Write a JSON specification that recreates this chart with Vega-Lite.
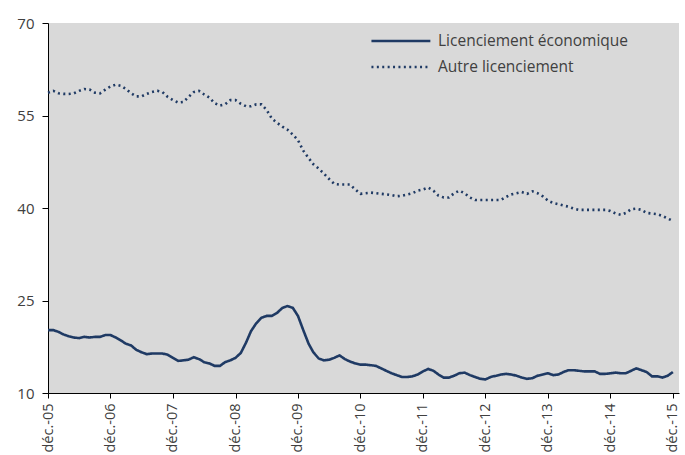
{
  "$schema": "https://vega.github.io/schema/vega-lite/v6.json",
  "width": 631,
  "height": 370,
  "autosize": {"type": "none"},
  "padding": {"left": 48, "top": 23, "right": 6, "bottom": 62},
  "background": "white",
  "config": {
    "font": "Open Sans",
    "view": {"fill": "#d9d9d9", "stroke": null},
    "axis": {"grid": false, "domainColor": "#000000", "tickColor": "#000000", "labelColor": "#404040", "labelFontSize": 14.5, "title": null}
  },
  "data": {"values": [
    {"d":"2005/12/01","eco":20.2,"autre":58.7},
    {"d":"2006/01/01","eco":20.2,"autre":59.0},
    {"d":"2006/02/01","eco":19.9,"autre":58.6},
    {"d":"2006/03/01","eco":19.5,"autre":58.5},
    {"d":"2006/04/01","eco":19.2,"autre":58.5},
    {"d":"2006/05/01","eco":19.0,"autre":58.6},
    {"d":"2006/06/01","eco":18.9,"autre":59.0},
    {"d":"2006/07/01","eco":19.1,"autre":59.3},
    {"d":"2006/08/01","eco":19.0,"autre":59.2},
    {"d":"2006/09/01","eco":19.1,"autre":58.7},
    {"d":"2006/10/01","eco":19.1,"autre":58.6},
    {"d":"2006/11/01","eco":19.4,"autre":59.2},
    {"d":"2006/12/01","eco":19.4,"autre":59.7},
    {"d":"2007/01/01","eco":19.0,"autre":60.0},
    {"d":"2007/02/01","eco":18.5,"autre":59.8},
    {"d":"2007/03/01","eco":18.0,"autre":59.3},
    {"d":"2007/04/01","eco":17.7,"autre":58.6},
    {"d":"2007/05/01","eco":17.0,"autre":58.1},
    {"d":"2007/06/01","eco":16.6,"autre":58.1},
    {"d":"2007/07/01","eco":16.3,"autre":58.5},
    {"d":"2007/08/01","eco":16.4,"autre":58.8},
    {"d":"2007/09/01","eco":16.4,"autre":59.0},
    {"d":"2007/10/01","eco":16.4,"autre":58.8},
    {"d":"2007/11/01","eco":16.2,"autre":58.0},
    {"d":"2007/12/01","eco":15.7,"autre":57.5},
    {"d":"2008/01/01","eco":15.2,"autre":57.1},
    {"d":"2008/02/01","eco":15.3,"autre":57.2},
    {"d":"2008/03/01","eco":15.4,"autre":58.0},
    {"d":"2008/04/01","eco":15.8,"autre":58.8},
    {"d":"2008/05/01","eco":15.5,"autre":59.0},
    {"d":"2008/06/01","eco":15.0,"autre":58.4},
    {"d":"2008/07/01","eco":14.8,"autre":57.9},
    {"d":"2008/08/01","eco":14.4,"autre":57.0},
    {"d":"2008/09/01","eco":14.4,"autre":56.6},
    {"d":"2008/10/01","eco":15.0,"autre":56.8},
    {"d":"2008/11/01","eco":15.3,"autre":57.5},
    {"d":"2008/12/01","eco":15.7,"autre":57.5},
    {"d":"2009/01/01","eco":16.5,"autre":56.9},
    {"d":"2009/02/01","eco":18.2,"autre":56.5},
    {"d":"2009/03/01","eco":20.0,"autre":56.5},
    {"d":"2009/04/01","eco":21.3,"autre":56.8},
    {"d":"2009/05/01","eco":22.2,"autre":56.8},
    {"d":"2009/06/01","eco":22.5,"autre":55.9},
    {"d":"2009/07/01","eco":22.5,"autre":54.5},
    {"d":"2009/08/01","eco":23.0,"autre":53.8},
    {"d":"2009/09/01","eco":23.8,"autre":53.2},
    {"d":"2009/10/01","eco":24.1,"autre":52.7},
    {"d":"2009/11/01","eco":23.8,"autre":51.9},
    {"d":"2009/12/01","eco":22.5,"autre":51.0},
    {"d":"2010/01/01","eco":20.2,"autre":49.3},
    {"d":"2010/02/01","eco":18.0,"autre":48.1},
    {"d":"2010/03/01","eco":16.6,"autre":47.1},
    {"d":"2010/04/01","eco":15.6,"autre":46.4},
    {"d":"2010/05/01","eco":15.3,"autre":45.6},
    {"d":"2010/06/01","eco":15.4,"autre":44.7},
    {"d":"2010/07/01","eco":15.7,"autre":43.9},
    {"d":"2010/08/01","eco":16.1,"autre":43.8},
    {"d":"2010/09/01","eco":15.5,"autre":43.8},
    {"d":"2010/10/01","eco":15.1,"autre":43.8},
    {"d":"2010/11/01","eco":14.8,"autre":43.0},
    {"d":"2010/12/01","eco":14.6,"autre":42.3},
    {"d":"2011/01/01","eco":14.6,"autre":42.4},
    {"d":"2011/02/01","eco":14.5,"autre":42.5},
    {"d":"2011/03/01","eco":14.4,"autre":42.4},
    {"d":"2011/04/01","eco":14.0,"autre":42.3},
    {"d":"2011/05/01","eco":13.6,"autre":42.2},
    {"d":"2011/06/01","eco":13.2,"autre":42.1},
    {"d":"2011/07/01","eco":12.9,"autre":41.9},
    {"d":"2011/08/01","eco":12.6,"autre":42.0},
    {"d":"2011/09/01","eco":12.6,"autre":42.2},
    {"d":"2011/10/01","eco":12.7,"autre":42.4},
    {"d":"2011/11/01","eco":13.0,"autre":42.8},
    {"d":"2011/12/01","eco":13.5,"autre":43.0},
    {"d":"2012/01/01","eco":13.9,"autre":43.3},
    {"d":"2012/02/01","eco":13.6,"autre":42.8},
    {"d":"2012/03/01","eco":13.0,"autre":42.0},
    {"d":"2012/04/01","eco":12.5,"autre":41.7},
    {"d":"2012/05/01","eco":12.5,"autre":41.7},
    {"d":"2012/06/01","eco":12.8,"autre":42.4},
    {"d":"2012/07/01","eco":13.2,"autre":42.8},
    {"d":"2012/08/01","eco":13.3,"autre":42.4},
    {"d":"2012/09/01","eco":12.9,"autre":41.7},
    {"d":"2012/10/01","eco":12.6,"autre":41.3},
    {"d":"2012/11/01","eco":12.3,"autre":41.3},
    {"d":"2012/12/01","eco":12.2,"autre":41.3},
    {"d":"2013/01/01","eco":12.6,"autre":41.3},
    {"d":"2013/02/01","eco":12.8,"autre":41.3},
    {"d":"2013/03/01","eco":13.0,"autre":41.3},
    {"d":"2013/04/01","eco":13.1,"autre":41.8},
    {"d":"2013/05/01","eco":13.0,"autre":42.2},
    {"d":"2013/06/01","eco":12.8,"autre":42.4},
    {"d":"2013/07/01","eco":12.5,"autre":42.6},
    {"d":"2013/08/01","eco":12.3,"autre":42.3},
    {"d":"2013/09/01","eco":12.4,"autre":42.7},
    {"d":"2013/10/01","eco":12.8,"autre":42.4},
    {"d":"2013/11/01","eco":13.0,"autre":41.9},
    {"d":"2013/12/01","eco":13.2,"autre":41.2},
    {"d":"2014/01/01","eco":12.9,"autre":40.8},
    {"d":"2014/02/01","eco":13.0,"autre":40.6},
    {"d":"2014/03/01","eco":13.4,"autre":40.4},
    {"d":"2014/04/01","eco":13.7,"autre":40.2},
    {"d":"2014/05/01","eco":13.7,"autre":39.9},
    {"d":"2014/06/01","eco":13.6,"autre":39.7},
    {"d":"2014/07/01","eco":13.5,"autre":39.7},
    {"d":"2014/08/01","eco":13.5,"autre":39.7},
    {"d":"2014/09/01","eco":13.5,"autre":39.7},
    {"d":"2014/10/01","eco":13.1,"autre":39.7},
    {"d":"2014/11/01","eco":13.1,"autre":39.7},
    {"d":"2014/12/01","eco":13.2,"autre":39.5},
    {"d":"2015/01/01","eco":13.3,"autre":39.1},
    {"d":"2015/02/01","eco":13.2,"autre":38.9},
    {"d":"2015/03/01","eco":13.2,"autre":39.2},
    {"d":"2015/04/01","eco":13.6,"autre":39.8},
    {"d":"2015/05/01","eco":14.0,"autre":39.9},
    {"d":"2015/06/01","eco":13.7,"autre":39.7},
    {"d":"2015/07/01","eco":13.4,"autre":39.2},
    {"d":"2015/08/01","eco":12.7,"autre":39.1},
    {"d":"2015/09/01","eco":12.7,"autre":39.0},
    {"d":"2015/10/01","eco":12.5,"autre":38.7},
    {"d":"2015/11/01","eco":12.8,"autre":38.3},
    {"d":"2015/12/01","eco":13.4,"autre":37.9}
  ]},
  "transform": [{"fold": ["eco", "autre"], "as": ["serie", "valeur"]}],
  "mark": {"type": "line", "color": "#1f3a64", "strokeWidth": 2.6, "interpolate": "linear"},
  "encoding": {
    "x": {
      "field": "d", "type": "temporal",
      "scale": {"domain": [{"year": 2005, "month": 12, "date": 1}, {"year": 2016, "month": 1, "date": 6}]},
      "axis": {
        "values": [
          {"year": 2005, "month": 12, "date": 1}, {"year": 2006, "month": 12, "date": 1},
          {"year": 2007, "month": 12, "date": 1}, {"year": 2008, "month": 12, "date": 1},
          {"year": 2009, "month": 12, "date": 1}, {"year": 2010, "month": 12, "date": 1},
          {"year": 2011, "month": 12, "date": 1}, {"year": 2012, "month": 12, "date": 1},
          {"year": 2013, "month": 12, "date": 1}, {"year": 2014, "month": 12, "date": 1},
          {"year": 2015, "month": 12, "date": 1}
        ],
        "labelExpr": "'déc.-' + timeFormat(datum.value, '%y')",
        "labelAngle": -90, "labelAlign": "right", "labelBaseline": "middle",
        "tickSize": 5, "labelPadding": 5, "labelFlush": false, "labelOverlap": false
      }
    },
    "y": {
      "field": "valeur", "type": "quantitative",
      "scale": {"domain": [10, 70], "nice": false, "zero": false},
      "axis": {"values": [10, 25, 40, 55, 70], "tickSize": 6, "labelPadding": 8, "labelFontSize": 15}
    },
    "detail": {"field": "serie"},
    "strokeDash": {
      "field": "serie", "type": "nominal",
      "scale": {"domain": ["eco", "autre"], "range": [[1, 0], [2, 3.4]]},
      "legend": {
        "title": null, "orient": "none", "legendX": 366, "legendY": 9,
        "padding": 0, "symbolType": "M-7,0H1", "symbolSize": 217,
        "symbolStrokeColor": "#1f3a64", "symbolFillColor": "transparent", "symbolStrokeWidth": 2.6,
        "labelFontSize": 15.5, "labelColor": "#404040", "labelOffset": 6, "rowPadding": 8,
        "labelLimit": 400,
        "labelExpr": "datum.label == 'eco' ? 'Licenciement économique' : 'Autre licenciement'"
      }
    }
  }
}
